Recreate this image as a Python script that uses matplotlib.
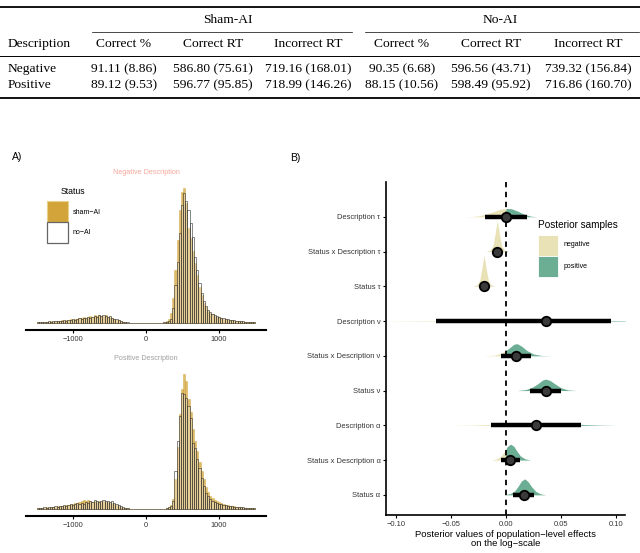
import numpy as np
import matplotlib
matplotlib.use("Agg")
import matplotlib.pyplot as plt
from matplotlib.patches import Rectangle

plt.rcParams['font.family'] = ['Liberation Sans', 'DejaVu Sans']

# ---- table data ----
group_names = ["Sham-AI", "No-AI"]
col_names = ["Correct %", "Correct RT", "Incorrect RT", "Correct %", "Correct RT", "Incorrect RT"]
row_names = ["Negative", "Positive"]
negative_row = ["91.11 (8.86)", "586.80 (75.61)", "719.16 (168.01)",
                "90.35 (6.68)", "596.56 (43.71)", "739.32 (156.84)"]
positive_row = ["89.12 (9.53)", "596.77 (95.85)", "718.99 (146.26)",
                "88.15 (10.56)", "598.49 (95.92)", "716.86 (160.70)"]

# ---- histogram data (30 ms bins from -1500 to 1500, heights) ----
bin_width = 30
neg_noai = [1, 1, 1, 1, 1, 2, 1, 2, 2, 2,
            2, 2, 3, 2, 3, 3, 4, 3, 4, 5,
            4, 5, 5, 6, 5, 6, 7, 6, 8, 7,
            8, 7, 6, 7, 5, 4, 4, 3, 2, 1,
            1, 1, .5, .5, .5, .5, .5, .5, .5, .5,
            .5, .5, .5, .5, .5, .5, .5, .5, 1, 1,
            2, 4, 15, 38, 61, 90, 118, 130, 122, 113,
            100, 86, 66, 53, 40, 30, 22, 17, 13, 11,
            9, 8, 7, 6, 5, 5, 4, 4, 3, 3,
            3, 2, 2, 2, 2, 1, 1, 1, 1, 1]
neg_sham = [1, .5, 1, 1, 1, 1, 2, 1, 2, 2,
            2, 3, 2, 3, 3, 4, 3, 4, 4, 5,
            5, 6, 5, 6, 7, 6, 8, 7, 8, 7,
            7, 8, 6, 6, 5, 4, 3, 3, 2, 1,
            1, .5, .5, .5, .5, .5, .5, .5, .5, .5,
            .5, .5, .5, .5, .5, .5, .5, .5, 1, 2,
            4, 10, 25, 53, 83, 113, 131, 135, 120, 95,
            85, 72, 60, 48, 36, 28, 20, 16, 12, 10,
            9, 7, 6, 6, 5, 4, 4, 3, 3, 3,
            2, 2, 2, 2, 1, 1, 1, 1, 1, 1]
pos_noai = [1, 1, 1, 2, 1, 2, 2, 2, 3, 2,
            3, 3, 4, 3, 4, 5, 4, 5, 6, 5,
            6, 5, 7, 6, 8, 7, 9, 8, 7, 8,
            9, 8, 8, 7, 8, 6, 5, 4, 3, 2,
            1, 1, .5, .5, .5, .5, .5, .5, .5, .5,
            .5, .5, .5, .5, .5, .5, .5, .5, .5, 1,
            2, 3, 8, 38, 68, 93, 116, 115, 111, 103,
            91, 66, 61, 50, 41, 31, 23, 16, 13, 10,
            8, 7, 6, 5, 5, 4, 4, 3, 3, 3,
            2, 2, 2, 2, 2, 1, 1, 1, 1, 1]
pos_sham = [1, 1, 1, 1, 2, 1, 2, 2, 2, 3,
            3, 3, 3, 4, 4, 5, 5, 6, 6, 7,
            8, 9, 8, 9, 8, 7, 8, 7, 8, 7,
            8, 7, 7, 6, 6, 5, 4, 3, 2, 1,
            1, 1, .5, .5, .5, .5, .5, .5, .5, .5,
            .5, .5, .5, .5, .5, .5, .5, .5, .5, 1,
            2, 4, 10, 30, 62, 95, 120, 135, 128, 110,
            97, 80, 68, 58, 47, 38, 30, 22, 17, 13,
            11, 9, 8, 7, 6, 5, 4, 4, 3, 3,
            3, 2, 2, 2, 1, 1, 1, 1, 1, 1]

# ---- posterior data (top to bottom) ----
effects = ["Description \u03c4", "Status x Description \u03c4", "Status \u03c4",
           "Description \u03bd", "Status x Description \u03bd", "Status \u03bd",
           "Description \u03b1", "Status x Description \u03b1", "Status \u03b1"]
medians = [0.0, -0.008, -0.020, 0.036, 0.009, 0.036, 0.027, 0.004, 0.016]
lower = [-0.019, -0.0105, -0.0225, -0.064, -0.005, 0.022, -0.014, -0.005, 0.006]
upper = [0.019, -0.0055, -0.0175, 0.095, 0.023, 0.050, 0.068, 0.013, 0.025]
slab_x = [
    [-0.036, -0.026, -0.019, -0.012, -0.006, 0.0, 0.005, 0.010, 0.016, 0.022, 0.028],
    [-0.018, -0.0145, -0.012, -0.010, -0.008, -0.006, -0.004, -0.0015, 0.002],
    [-0.030, -0.0265, -0.024, -0.022, -0.020, -0.018, -0.016, -0.0135, -0.010],
    [-0.12, -0.08, -0.04, 0.0, 0.036, 0.07, 0.10, 0.13],
    [-0.02, -0.01, -0.004, 0.002, 0.007, 0.010, 0.014, 0.019, 0.025, 0.032, 0.040],
    [0.010, 0.018, 0.024, 0.029, 0.033, 0.036, 0.040, 0.045, 0.050, 0.056, 0.064],
    [-0.05, -0.03, -0.01, 0.01, 0.027, 0.045, 0.065, 0.085, 0.10],
    [-0.014, -0.009, -0.005, -0.002, 0.001, 0.004, 0.007, 0.010, 0.013, 0.017, 0.022],
    [-0.002, 0.004, 0.008, 0.011, 0.014, 0.017, 0.020, 0.023, 0.027, 0.031, 0.036],
]
slab_h = [
    [0, 0.02, 0.07, 0.14, 0.21, 0.24, 0.23, 0.17, 0.08, 0.02, 0],
    [0, 0.04, 0.16, 0.5, 0.89, 0.5, 0.16, 0.04, 0],
    [0, 0.04, 0.16, 0.5, 0.89, 0.5, 0.16, 0.04, 0],
    [0, 0.01, 0.02, 0.03, 0.035, 0.03, 0.015, 0],
    [0, 0.02, 0.08, 0.2, 0.33, 0.35, 0.28, 0.15, 0.05, 0.01, 0],
    [0, 0.03, 0.1, 0.2, 0.3, 0.33, 0.29, 0.18, 0.08, 0.02, 0],
    [0, 0.01, 0.03, 0.06, 0.08, 0.06, 0.03, 0.01, 0],
    [0, 0.03, 0.1, 0.22, 0.38, 0.46, 0.4, 0.25, 0.12, 0.04, 0],
    [0, 0.04, 0.12, 0.25, 0.4, 0.46, 0.38, 0.24, 0.1, 0.03, 0],
]

gold = '#D2A43A'
neg_col = '#E8E2B6'
pos_col = '#6CAE94'
tick_col = '#333333'

W, H = 640, 553
fig = plt.figure(figsize=(W / 100, H / 100), dpi=100)


def px_axes(left, top, right, bottom):
    return fig.add_axes([left / W, 1 - bottom / H, (right - left) / W, (bottom - top) / H])


# ---- histogram panels ----
bin_left = np.arange(-1500, 1500, bin_width)
for (top, bottom, title, tcol, sham, noai) in [
        (181, 330, "Negative Description", '#F6A89C', neg_sham, neg_noai),
        (367, 516, "Positive Description", '#A0A0A0', pos_sham, pos_noai)]:
    ax = px_axes(26, top, 266, bottom)
    ax.bar(bin_left, sham, width=bin_width, align='edge', color=gold, alpha=0.75,
           edgecolor=gold, linewidth=0.4)
    ax.bar(bin_left, noai, width=bin_width, align='edge', facecolor=(1, 1, 1, 0.3),
           edgecolor=(0.15, 0.15, 0.15, 0.7), linewidth=0.55)
    ax.set_xlim(-1650, 1650)
    ax.set_ylim(-7, 142)
    for s in ['left', 'right', 'top']:
        ax.spines[s].set_visible(False)
    ax.spines['bottom'].set_linewidth(1.5)
    ax.set_yticks([])
    ax.set_xticks([-1000, 0, 1000])
    ax.set_xticklabels(["\u22121000", "0", "1000"])
    ax.tick_params(axis='x', length=2.5, width=0.8, labelsize=5.3, labelcolor=tick_col, pad=1.5)
    ax.text(0, 142 + 8, title, ha='center', va='center', fontsize=5.2, color=tcol,
            transform=ax.transData, clip_on=False)
    ax.patch.set_visible(False)

# ---- posterior panel ----
axb = px_axes(386, 182, 625, 515)
n = len(effects)
ypos = np.arange(n, 0, -1)
for i in range(n):
    y0 = ypos[i]
    xs = np.array(slab_x[i], dtype=float)
    hs = np.array(slab_h[i], dtype=float)
    if xs[0] < 0 < xs[-1]:
        xf = np.sort(np.append(xs, 0.0))
        hf = np.interp(xf, xs, hs)
    else:
        xf, hf = xs, hs
    axb.fill_between(xf, y0, y0 + hf, where=xf <= 0, color=neg_col, linewidth=0)
    axb.fill_between(xf, y0, y0 + hf, where=xf >= 0, color=pos_col, linewidth=0)
axb.axvline(0, color='black', lw=1.3, linestyle=(0, (3, 2.5)), zorder=3)
for i in range(n):
    axb.plot([lower[i], upper[i]], [ypos[i], ypos[i]], color='black', lw=3.2,
             solid_capstyle='butt', zorder=4)
    axb.plot(medians[i], ypos[i], 'o', ms=6.8, mfc='#3a3a3a', mec='black', mew=1.3, zorder=5)
axb.set_xlim(-0.109, 0.108)
axb.set_ylim(0.42, 10.0)
axb.set_yticks(ypos)
axb.set_yticklabels(effects)
axb.set_xticks([-0.10, -0.05, 0.0, 0.05, 0.10])
axb.set_xticklabels(["\u22120.10", "\u22120.05", "0.00", "0.05", "0.10"])
axb.tick_params(length=2.5, width=0.8, labelsize=5.4, labelcolor=tick_col, pad=1.5)
for s in ['right', 'top']:
    axb.spines[s].set_visible(False)
for s in ['left', 'bottom']:
    axb.spines[s].set_linewidth(1.2)
axb.set_xlabel("Posterior values of population\u2212level effects\non the log\u2212scale",
               fontsize=6.8, labelpad=2, linespacing=1.0)
axb.patch.set_visible(False)

# ---- overlay for table, panel labels and legends (pixel coordinates) ----
ov = fig.add_axes([0, 0, 1, 1], zorder=10)
ov.set_xlim(0, W)
ov.set_ylim(H, 0)
ov.axis('off')
ov.patch.set_visible(False)

serif = 'Liberation Serif'
tfs = 9.7
ov.plot([0, W], [7, 7], color='black', lw=1.3)
ov.plot([0, W], [56, 56], color='black', lw=0.7)
ov.plot([0, W], [98, 98], color='black', lw=1.3)
ov.plot([92, 352], [32, 32], color='black', lw=0.5)
ov.plot([365, 639], [32, 32], color='black', lw=0.5)
ov.text(228, 20, group_names[0], ha='center', va='center', fontsize=tfs, family=serif)
ov.text(500, 20, group_names[1], ha='center', va='center', fontsize=tfs, family=serif)
col_x = [124, 213, 308, 402, 491, 588]
ov.text(8, 44, "Description", ha='left', va='center', fontsize=tfs, family=serif)
for cx, name in zip(col_x, col_names):
    ov.text(cx, 44, name, ha='center', va='center', fontsize=tfs, family=serif)
for ry, rname, vals in [(69, row_names[0], negative_row), (85, row_names[1], positive_row)]:
    ov.text(8, ry, rname, ha='left', va='center', fontsize=tfs, family=serif)
    for cx, v in zip(col_x, vals):
        ov.text(cx, ry, v, ha='center', va='center', fontsize=tfs, family=serif)

ov.text(12, 157, "A)", ha='left', va='center', fontsize=7.5)
ov.text(290, 158, "B)", ha='left', va='center', fontsize=7.5)

# legend A
ov.text(61, 191, "Status", ha='left', va='center', fontsize=6.3)
ov.add_patch(Rectangle((47, 201), 21, 21, facecolor=gold, edgecolor='#E8CF8A', lw=0.8))
ov.add_patch(Rectangle((47, 222), 21, 21, facecolor='white', edgecolor='#666666', lw=0.9))
ov.text(73, 212, "sham\u2212AI", ha='left', va='center', fontsize=5)
ov.text(73, 233, "no\u2212AI", ha='left', va='center', fontsize=5)

# legend B
ov.text(538, 225, "Posterior samples", ha='left', va='center', fontsize=7.2)
ov.add_patch(Rectangle((538, 235), 20, 21, facecolor=neg_col, edgecolor='white', lw=0.6))
ov.add_patch(Rectangle((538, 256), 20, 21, facecolor=pos_col, edgecolor='white', lw=0.6))
ov.text(564, 245, "negative", ha='left', va='center', fontsize=5)
ov.text(564, 267, "positive", ha='left', va='center', fontsize=5)

fig.savefig("out.png", dpi=100)
